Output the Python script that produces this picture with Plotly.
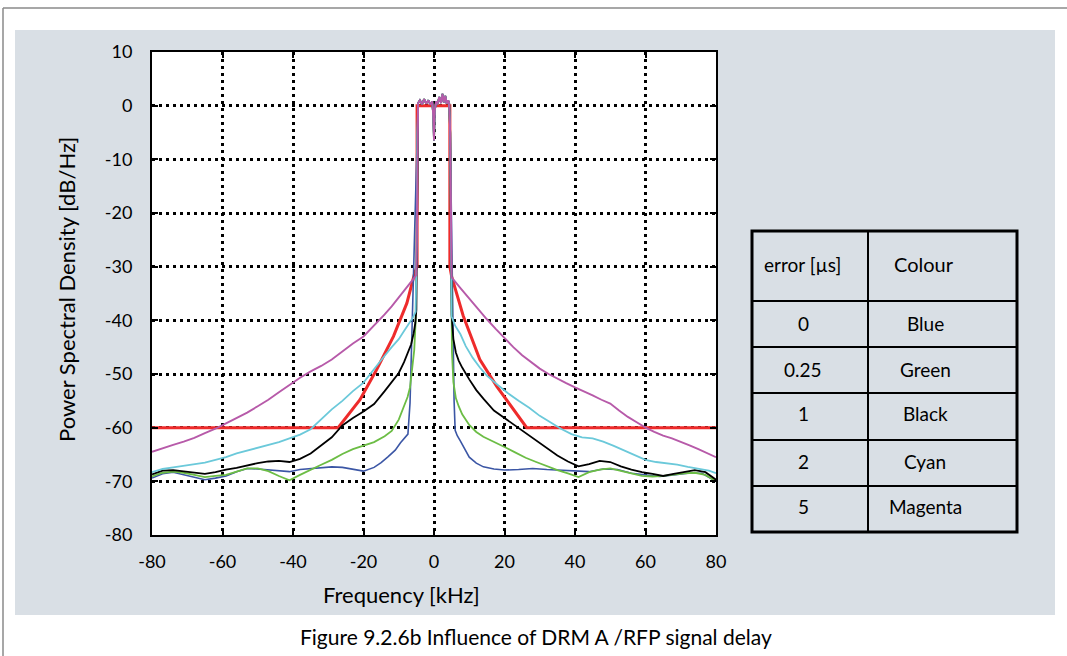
import plotly.graph_objects as go

# ---------------- data ----------------
x_tick_vals = [-80, -60, -40, -20, 0, 20, 40, 60, 80]
x_tick_text = ["-80", "-60", "-40", "-20", "0", "20", "40", "60", "80"]
y_tick_vals = [10, 0, -10, -20, -30, -40, -50, -60, -70, -80]
y_tick_text = ["10", "0", "-10", "-20", "-30", "-40", "-50", "-60", "-70", "-80"]

# common passband (all curves overlap here)
pb_f = [-4.5, -4.0, -3.4, -2.8, -2.2, -1.6, -1.0, -0.5, -0.2, 0.0, 0.2, 0.6, 1.0, 1.5, 2.0, 2.4, 2.8, 3.2, 3.6, 4.0, 4.3]
pb_db = [0.5, 1.0, 0.3, 1.2, 0.4, 1.0, 0.2, 0.8, -2.0, -6.5, -1.0, 0.8, 0.3, 1.6, 0.5, 2.2, 0.6, 1.8, 0.4, 1.0, 0.5]

# 0 us - Blue
blue_left_f = [-80, -77, -74, -71, -68, -65, -62, -59, -56, -53, -50, -47, -44, -41, -38, -35, -32, -29, -26, -23, -20, -17, -15, -13, -11, -9.5, -8.3, -7.4, -6.8, -6.4, -5.8, -5.2, -4.8]
blue_left_db = [-69.4, -68.6, -68.3, -68.8, -69.3, -69.7, -69.4, -69.0, -68.2, -67.6, -67.7, -67.9, -68.1, -68.2, -67.8, -67.6, -67.4, -67.3, -67.4, -67.8, -68.1, -67.4, -66.5, -65.4, -64.2, -62.8, -62.0, -61.2, -55.4, -45, -30, -15, -5]
blue_right_f = [4.6, 4.9, 5.3, 5.7, 6.0, 6.6, 7.5, 8.5, 10, 12, 14, 17, 20, 24, 28, 32, 36, 40, 44, 48, 52, 56, 60, 64, 68, 72, 76, 80]
blue_right_db = [-5, -20, -40, -55, -60.5, -61.5, -62.5, -63.8, -65.5, -66.6, -67.3, -67.7, -67.9, -67.8, -67.6, -67.8, -67.9, -68.1, -68.2, -67.7, -67.8, -68.5, -68.8, -69.1, -68.8, -68.5, -68.5, -70.0]

# 0.25 us - Green
green_left_f = [-80, -77, -74, -71, -68, -65, -62, -59, -56, -53, -50, -47, -44, -41, -38, -35, -32, -29, -26, -23, -20, -17, -14, -12, -10, -8.5, -7.5, -6.8, -6.2, -5.6, -5.2, -4.9, -4.7]
green_left_db = [-69.1, -68.4, -68.2, -68.4, -68.8, -69.2, -69.0, -68.8, -68.2, -67.6, -67.6, -68.1, -69.0, -69.8, -68.8, -67.8, -66.9, -66.0, -64.9, -64.0, -63.3, -62.7, -61.6, -60.6, -58.5, -56.0, -54.3, -52.5, -49.5, -45.5, -40, -20, -5]
green_right_f = [4.6, 4.8, 5.1, 5.5, 6.2, 7.0, 8.0, 10, 12, 14, 17, 20, 23, 26, 29, 32, 35, 38, 41, 44, 47, 50, 53, 56, 59, 62, 65, 68, 71, 74, 77, 80]
green_right_db = [-5, -30, -46, -51.5, -54.5, -56, -57.5, -59.5, -60.8, -61.7, -62.6, -63.6, -64.6, -65.6, -66.4, -67.2, -67.9, -68.5, -69.2, -68.3, -67.8, -67.6, -68.0, -68.5, -69.0, -69.1, -69.0, -68.7, -68.5, -68.4, -68.8, -70.0]

# 1 us - Black
black_left_f = [-80, -77, -74, -71, -68, -65, -62, -59, -56, -53, -50, -47, -44, -41, -38, -35, -32, -29, -26, -23, -20, -17, -14, -12, -10, -8.5, -7.5, -6.5, -5.8, -5.3, -5.0, -4.8, -4.7]
black_left_db = [-68.7, -68.0, -67.9, -68.1, -68.4, -68.6, -68.3, -67.8, -67.5, -67.0, -66.6, -66.3, -66.2, -66.4, -65.8, -64.8, -63.3, -61.8, -59.6, -58.2, -57.0, -55.6, -53.2, -51.6, -49.8, -47.8, -46.2, -44.5, -42.5, -40.5, -38, -20, -5]
black_right_f = [4.6, 4.8, 5.0, 5.5, 6.2, 7, 8, 10, 12, 14, 17, 20, 23, 26, 29, 32, 35, 38, 41, 44, 47, 50, 53, 56, 59, 62, 65, 68, 71, 74, 77, 80]
black_right_db = [-5, -25, -39, -43.5, -46, -47.5, -48.8, -51, -53, -54.6, -56.8, -58.2, -59.6, -61.0, -62.4, -63.8, -65.2, -66.3, -67.2, -66.8, -66.2, -66.4, -67.2, -67.8, -68.3, -68.6, -69.0, -68.6, -68.2, -67.9, -68.3, -69.7]

# 2 us - Cyan
cyan_left_f = [-80, -77, -74, -71, -68, -65, -62, -59, -56, -53, -50, -47, -44, -41, -38, -35, -32, -29, -26, -23, -20, -17, -14, -12, -10, -8.5, -7, -6, -5.2, -4.9, -4.7]
cyan_left_db = [-68.3, -67.7, -67.4, -67.1, -66.9, -66.5, -66.0, -65.5, -64.8, -64.3, -63.8, -63.3, -62.7, -62.0, -61.3, -60.3, -58.5, -56.6, -55.0, -53.2, -51.6, -49.0, -46.6, -45.0, -43.5, -42.0, -40.5, -39.5, -38.4, -25, -5]
cyan_right_f = [4.6, 4.8, 5.0, 6.0, 7.5, 9, 11, 13, 15, 18, 21, 24, 27, 30, 33, 36, 39, 42, 45, 48, 51, 54, 57, 60, 63, 66, 69, 72, 75, 78, 80]
cyan_right_db = [-5, -30, -39.3, -41, -42.6, -44.8, -47, -48.8, -50.3, -52, -53.6, -55, -56.3, -57.8, -59, -60.2, -61.2, -61.8, -62.0, -62.6, -63.4, -64.3, -65.2, -66.0, -66.4, -66.6, -66.9, -67.3, -67.6, -68.0, -68.5]

# 5 us - Magenta
magenta_left_f = [-80, -77, -74, -71, -68, -65, -62, -59, -56, -53, -50, -47, -44, -41, -38, -35, -32, -29, -26, -23, -20, -17, -14, -12, -10, -8, -6.5, -5.5, -5.0, -4.8, -4.7]
magenta_left_db = [-64.5, -63.8, -63.2, -62.6, -61.9, -61.0, -60.2, -59.2, -58.2, -57.2, -56.0, -54.8, -53.4, -52.0, -50.7, -49.5, -48.5, -47.3, -45.8, -44.3, -43.0, -41.0, -38.9, -37.4, -35.8, -34.2, -33.0, -32.0, -31.5, -20, -5]
magenta_right_f = [4.6, 4.8, 5.0, 7.5, 10, 12.5, 15, 17.5, 20, 22.5, 25, 27.5, 30, 32.5, 35, 37.5, 40, 42.5, 45, 47.5, 50, 52.5, 55, 57.5, 60, 62.5, 65, 67.5, 70, 72.5, 75, 77.5, 80]
magenta_right_db = [-5, -20, -32, -34, -36, -38, -39.8, -41.6, -43.4, -45, -46.5, -47.8, -49, -50, -50.9, -51.7, -52.5, -53.2, -54, -54.8, -55.5, -56.8, -58, -59, -60, -60.8, -61.5, -62.0, -62.6, -63.3, -64, -64.7, -65.5]

# spectrum mask - Red
mask_f = [-80, -27.2, -21, -16.3, -11.5, -7.7, -5.4, -4.8, -4.8, 4.5, 4.5, 5.0, 8.3, 13, 17.8, 26.3, 80]
mask_db = [-60, -60, -54.8, -49.2, -43, -36.8, -31, -30, 0, 0, -30, -31.8, -39.2, -47.3, -52.3, -60, -60]

# legend table
table_errors = ["0", "0.25", "1", "2", "5"]
table_colours = ["Blue", "Green", "Black", "Cyan", "Magenta"]

# ---------------- figure ----------------
W, H = 1067, 656
L, R, T, B = 152, 716, 52, 535  # plot area in pixels


def PX(x):
    return (x - L) / (R - L)


def PY(y):
    return (B - y) / (B - T)


FONT = "Lato, 'Open Sans', sans-serif"

series = [
    ("0 µs", blue_left_f, blue_left_db, blue_right_f, blue_right_db, "#3b56a5", 1.6),
    ("0.25 µs", green_left_f, green_left_db, green_right_f, green_right_db, "#6cbd45", 1.8),
    ("1 µs", black_left_f, black_left_db, black_right_f, black_right_db, "#000000", 1.8),
    ("2 µs", cyan_left_f, cyan_left_db, cyan_right_f, cyan_right_db, "#6bc9da", 1.8),
]

fig = go.Figure()

fig.add_trace(go.Scatter(x=mask_f, y=mask_db, mode="lines",
                         line=dict(color="#ee2b2b", width=3), name="mask",
                         showlegend=False))
for name, lf, ld, rf, rd, col, w in series:
    fig.add_trace(go.Scatter(x=lf + pb_f + rf, y=ld + pb_db + rd, mode="lines",
                             line=dict(color=col, width=w), name=name,
                             showlegend=False))
fig.add_trace(go.Scatter(x=magenta_left_f + pb_f + magenta_right_f,
                         y=magenta_left_db + pb_db + magenta_right_db,
                         mode="lines", line=dict(color="#b75aa9", width=1.9),
                         name="5 µs", showlegend=False))

shapes = []
# grey panel and white plot background
shapes.append(dict(type="rect", xref="paper", yref="paper", x0=PX(15), x1=PX(1055),
                   y0=PY(615), y1=PY(30), fillcolor="#d9dfe5", line=dict(width=0), layer="below"))
shapes.append(dict(type="rect", xref="paper", yref="paper", x0=0, x1=1, y0=0, y1=1,
                   fillcolor="white", line=dict(width=0), layer="below"))
# page frame lines
shapes.append(dict(type="line", xref="paper", yref="paper", x0=PX(3), x1=PX(1067),
                   y0=PY(8), y1=PY(8), line=dict(color="#8a8a8a", width=1.5)))
shapes.append(dict(type="line", xref="paper", yref="paper", x0=PX(3), x1=PX(3),
                   y0=PY(8), y1=PY(656), line=dict(color="#8a8a8a", width=1.5)))

# table
tx0, tx1, tmid = 752, 1017, 868
row_y = [231, 301, 347, 393, 440, 486, 532]
shapes.append(dict(type="rect", xref="paper", yref="paper", x0=PX(tx0), x1=PX(tx1),
                   y0=PY(row_y[-1]), y1=PY(row_y[0]), line=dict(color="black", width=3)))
shapes.append(dict(type="line", xref="paper", yref="paper", x0=PX(tmid), x1=PX(tmid),
                   y0=PY(row_y[-1]), y1=PY(row_y[0]), line=dict(color="black", width=2)))
for ry in row_y[1:-1]:
    shapes.append(dict(type="line", xref="paper", yref="paper", x0=PX(tx0), x1=PX(tx1),
                       y0=PY(ry), y1=PY(ry), line=dict(color="black", width=2)))

annotations = []


def txt(s, x, y, size=17, angle=0):
    annotations.append(dict(text=s, xref="paper", yref="paper", x=PX(x), y=PY(y),
                            xanchor="center", yanchor="middle", showarrow=False,
                            textangle=angle, font=dict(family=FONT, size=size, color="black")))


txt("error [µs]", 802, 264, 19)
txt("Colour", 924, 264, 20)
row_centers = [323, 369, 414, 461, 506]
for e, c, yy in zip(table_errors, table_colours, row_centers):
    txt(e, 803, yy, 19)
    txt(c, 925, yy, 19)

txt("Power Spectral Density [dB/Hz]", 66, 290, 22, -90)
txt("Frequency [kHz]", 401, 594, 22)
txt("Figure 9.2.6b Influence of DRM A /RFP signal delay", 536, 636, 21)

axis_common = dict(showline=True, linecolor="black", linewidth=2, mirror="ticks",
                   ticks="inside", ticklen=6, tickwidth=2, tickcolor="black",
                   showgrid=True, gridcolor="black", gridwidth=2.6, griddash="2.5px,4.5px",
                   zeroline=False, tickfont=dict(family=FONT, size=18, color="black"))

fig.update_xaxes(range=[-80, 80], tickvals=x_tick_vals, ticktext=x_tick_text,
                 ticklabelstandoff=9, **axis_common)
fig.update_yaxes(range=[-80, 10], tickvals=y_tick_vals, ticktext=y_tick_text,
                 ticklabelstandoff=14, **axis_common)

fig.update_layout(width=W, height=H, autosize=False,
                  margin=dict(l=L, r=W - R, t=T, b=H - B, pad=0),
                  paper_bgcolor="white", plot_bgcolor="white",
                  shapes=shapes, annotations=annotations, showlegend=False,
                  font=dict(family=FONT, color="black"))

fig.write_html("out.html", config={"displayModeBar": False},
               post_script="document.body.style.margin='0';document.body.style.padding='0';document.body.style.overflow='hidden';")
